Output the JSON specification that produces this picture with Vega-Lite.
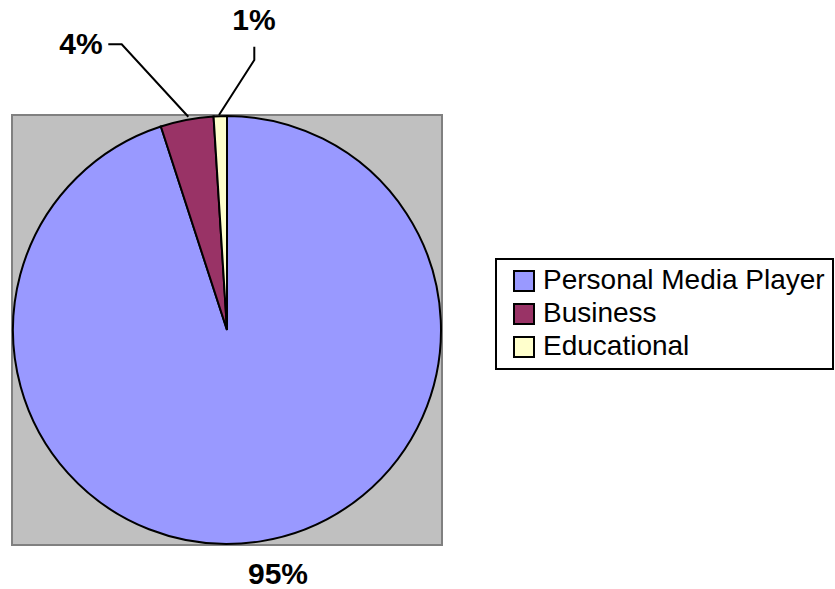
{
  "$schema": "https://vega.github.io/schema/vega-lite/v6.json",
  "width": 430,
  "height": 430,
  "autosize": {"type": "none"},
  "padding": {"left": 12, "top": 115, "right": 393, "bottom": 44},
  "background": "white",
  "datasets": {
    "shares": [
      {"segment": "Personal Media Player", "share": 95, "idx": 1},
      {"segment": "Business", "share": 4, "idx": 2},
      {"segment": "Educational", "share": 1, "idx": 3}
    ],
    "leaders": [
      {"series": "Business", "pt": 1, "px": -118.7, "py": 285.7},
      {"series": "Business", "pt": 2, "px": -105.3, "py": 285.7},
      {"series": "Business", "pt": 3, "px": -38.7, "py": 213.3},
      {"series": "Educational", "pt": 1, "px": 27.3, "py": 283.3},
      {"series": "Educational", "pt": 2, "px": 27.3, "py": 270},
      {"series": "Educational", "pt": 3, "px": -8, "py": 215}
    ],
    "labels": [
      {"label": "95%", "px": 51, "py": -245},
      {"label": "4%", "px": -146, "py": 285.5},
      {"label": "1%", "px": 27, "py": 309}
    ]
  },
  "layer": [
    {
      "data": {"name": "shares"},
      "mark": {"type": "arc", "outerRadius": 214, "stroke": "black", "strokeWidth": 2},
      "encoding": {
        "theta": {"field": "share", "type": "quantitative", "stack": true},
        "order": {"field": "idx", "type": "quantitative"},
        "color": {
          "field": "segment",
          "type": "nominal",
          "scale": {
            "domain": ["Personal Media Player", "Business", "Educational"],
            "range": ["#9999ff", "#993366", "#ffffcc"]
          },
          "legend": {"title": null}
        }
      }
    },
    {
      "data": {"name": "leaders"},
      "mark": {"type": "line", "color": "black", "strokeWidth": 2},
      "encoding": {
        "x": {"field": "px", "type": "quantitative", "scale": {"domain": [-215, 215], "nice": false, "zero": false}, "axis": null},
        "y": {"field": "py", "type": "quantitative", "scale": {"domain": [-215, 215], "nice": false, "zero": false}, "axis": null},
        "detail": {"field": "series"},
        "order": {"field": "pt", "type": "quantitative"}
      }
    },
    {
      "data": {"name": "labels"},
      "mark": {"type": "text", "font": "Liberation Sans", "fontWeight": "bold", "fontSize": 30, "color": "black", "align": "center", "baseline": "middle"},
      "encoding": {
        "x": {"field": "px", "type": "quantitative"},
        "y": {"field": "py", "type": "quantitative"},
        "text": {"field": "label"}
      }
    }
  ],
  "config": {
    "view": {"fill": "#c0c0c0", "stroke": "#808080", "strokeWidth": 2},
    "legend": {
      "orient": "none",
      "legendX": 484,
      "legendY": 144,
      "fillColor": "white",
      "strokeColor": "black",
      "strokeWidth": 2,
      "padding": 8,
      "symbolType": "square",
      "symbolSize": 400,
      "symbolStrokeColor": "black",
      "symbolStrokeWidth": 2,
      "symbolOpacity": 1,
      "symbolOffset": 6,
      "labelFont": "Liberation Sans",
      "labelFontSize": 28,
      "labelColor": "black",
      "labelOffset": 5,
      "labelLimit": 0,
      "rowPadding": 5
    }
  }
}
